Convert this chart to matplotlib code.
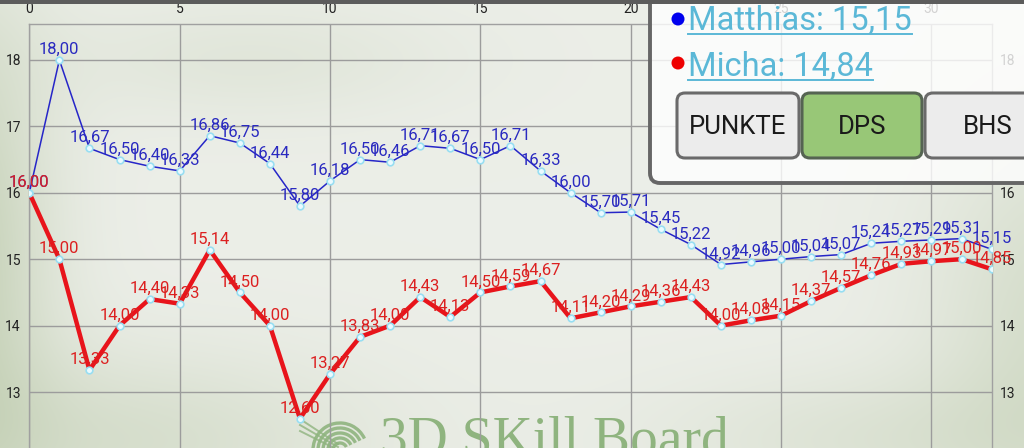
import numpy as np
import matplotlib
matplotlib.use("Agg")
import matplotlib.pyplot as plt
from matplotlib.patches import FancyBboxPatch, Rectangle, Circle, Arc

plt.rcParams['font.family'] = ['Roboto', 'DejaVu Sans']

# ---------------- data ----------------
rounds = list(range(33))
matthias = [16.00, 18.00, 16.67, 16.50, 16.40, 16.33, 16.86, 16.75, 16.44, 15.80,
            16.18, 16.50, 16.46, 16.71, 16.67, 16.50, 16.71, 16.33, 16.00, 15.70,
            15.71, 15.45, 15.22, 14.92, 14.96, 15.00, 15.04, 15.07, 15.24, 15.27,
            15.29, 15.31, 15.15]
micha = [16.00, 15.00, 13.33, 14.00, 14.40, 14.33, 15.14, 14.50, 14.00, 12.60,
         13.27, 13.83, 14.00, 14.43, 14.13, 14.50, 14.59, 14.67, 14.11, 14.20,
         14.29, 14.36, 14.43, 14.00, 14.08, 14.15, 14.37, 14.57, 14.76, 14.93,
         14.97, 15.00, 14.85]
legend_labels = ["Matthias: 15,15", "Micha: 14,84"]
buttons = ["PUNKTE", "DPS", "BHS"]
x_ticks = [0, 5, 10, 15, 20, 25, 30]
y_ticks = [13, 14, 15, 16, 17, 18]

W, H = 1024, 448
fig = plt.figure(figsize=(W / 100, H / 100), dpi=100)

# ---------------- background texture ----------------
bg = fig.add_axes([0, 0, 1, 1], zorder=-10)
yy, xx = np.mgrid[0:H, 0:W]
def blob(cx, cy, sx, sy):
    return np.exp(-(((xx - cx) / sx) ** 2 + ((yy - cy) / sy) ** 2))
light = np.array([0.925, 0.935, 0.910])
green = np.array([0.76, 0.81, 0.70])
g = (0.9 * blob(-40, 260, 90, 260) + 0.55 * blob(1060, 330, 130, 200)
     + 0.5 * blob(120, 440, 240, 90) + 0.35 * blob(880, 440, 220, 70)
     + 0.25 * blob(250, 60, 200, 60))
g = np.clip(g, 0, 1)[..., None]
img = light * (1 - g) + green * g
bg.imshow(img, extent=(0, W, H, 0), aspect='auto', interpolation='bilinear')
bg.set_xlim(0, W); bg.set_ylim(H, 0); bg.axis('off')

# watermark
wm_col = '#8fb47f'
bg.text(380, 455, "3D SKill Board", family=['Liberation Serif', 'DejaVu Serif'],
        fontsize=40, color=wm_col, ha='left', va='baseline', clip_on=False)
for r in [7, 12, 17, 22, 27]:
    bg.add_patch(Arc((340, 450), 2 * r, 2 * r, theta1=25, theta2=335,
                     color=wm_col, lw=2.4, alpha=0.9))
bg.add_patch(Arc((340, 450), 2 * 34, 2 * 34, theta1=20, theta2=150,
                 color=wm_col, lw=3.0, alpha=0.9))
for dy in [-6, 0, 6]:
    bg.plot([300, 338], [425 + dy, 447 + dy / 2], color=wm_col, lw=1.4, alpha=0.8)

# ---------------- main chart ----------------
x0, x1 = 29.3, 991.6
top_px = 24
ax = fig.add_axes([x0 / W, 0, (x1 - x0) / W, (H - top_px) / H], zorder=1)
ax.set_facecolor('none')
ax.set_xlim(0, 32)
ax.set_ylim(12.157, 18.542)
ax.set_xticks(x_ticks)
ax.set_yticks(y_ticks)
ax.grid(True, color='#9c9c9c', lw=1.0)
ax.set_axisbelow(True)
for s in ['left', 'top', 'right']:
    ax.spines[s].set_color('#a0a0a0')
    ax.spines[s].set_linewidth(1.0)
ax.spines['bottom'].set_visible(False)
ax.tick_params(axis='x', top=True, bottom=False, labeltop=True, labelbottom=False,
               length=0, pad=6, labelsize=10, labelcolor='#222222')
ax.tick_params(axis='y', left=True, right=True, labelleft=True, labelright=True,
               length=0, pad=6, labelsize=10, labelcolor='#222222')

blue_line = '#2626c8'
red_line = '#e8141b'
mk = dict(marker='o', markersize=4.8, markerfacecolor='#eafaff',
          markeredgecolor='#98def2', markeredgewidth=1.2)
ax.plot(rounds, matthias, color=blue_line, lw=1.1, zorder=3, **mk)
ax.plot(rounds, micha, color=red_line, lw=3.2, zorder=4, **mk)

def fmt(v):
    return f"{v:.2f}".replace('.', ',')

for xv, yv in zip(rounds, matthias):
    ax.annotate(fmt(yv), (xv, yv), xytext=(0, 6), textcoords='offset pixels',
                ha='center', va='baseline', fontsize=12, color='#2a2ac0',
                zorder=5, annotation_clip=False)
for xv, yv in zip(rounds, micha):
    ax.annotate(fmt(yv), (xv, yv), xytext=(0, 6), textcoords='offset pixels',
                ha='center', va='baseline', fontsize=12, color='#dc2020',
                zorder=6, annotation_clip=False)

# ---------------- overlay (panel, buttons) ----------------
ov = fig.add_axes([0, 0, 1, 1], zorder=10)
ov.set_xlim(0, W); ov.set_ylim(H, 0); ov.axis('off')
ov.patch.set_visible(False)

ov.add_patch(FancyBboxPatch((650, -30), 420, 213,
                            boxstyle="round,pad=0,rounding_size=10",
                            facecolor=(1, 1, 1, 0.80), edgecolor='#666666', lw=2.8))
ov.add_patch(Rectangle((0, 0), W, 4, facecolor='#5c5c5c', edgecolor='none'))

leg_col = '#5bb8d7'
dot_cols = ['#0000ee', '#ee0000']
base_y = [30, 76]
dot_y = [19, 63]
texts = []
for lab, by, dy, dc in zip(legend_labels, base_y, dot_y, dot_cols):
    ov.add_patch(Circle((678, dy), 6.5, facecolor=dc, edgecolor='none'))
    t = ov.text(688, by, lab, fontsize=23.5, color=leg_col, ha='left', va='baseline')
    texts.append((t, by))

btn_x = [677, 802, 925]
btn_w = [122, 120, 126]
btn_face = ['#ececec', '#98c777', '#ececec']
btn_edge = ['#6a6a6a', '#556452', '#6a6a6a']
for lab, bx, bw, fc, ec in zip(buttons, btn_x, btn_w, btn_face, btn_edge):
    ov.add_patch(FancyBboxPatch((bx, 93), bw, 65,
                                boxstyle="round,pad=0,rounding_size=8",
                                facecolor=fc, edgecolor=ec, lw=2.2))
    ov.text(bx + bw / 2, 127, lab, fontsize=18.5, color='#1a1a1a',
            ha='center', va='center')

fig.canvas.draw()
r = fig.canvas.get_renderer()
inv = ov.transData.inverted()
for t, by in texts:
    bb = t.get_window_extent(r)
    (xa, _), (xb, _) = inv.transform([[bb.x0, 0], [bb.x1, 0]])
    ov.plot([xa, xb], [by + 4, by + 4], color=leg_col, lw=1.4)

fig.savefig("out.png", dpi=100)
